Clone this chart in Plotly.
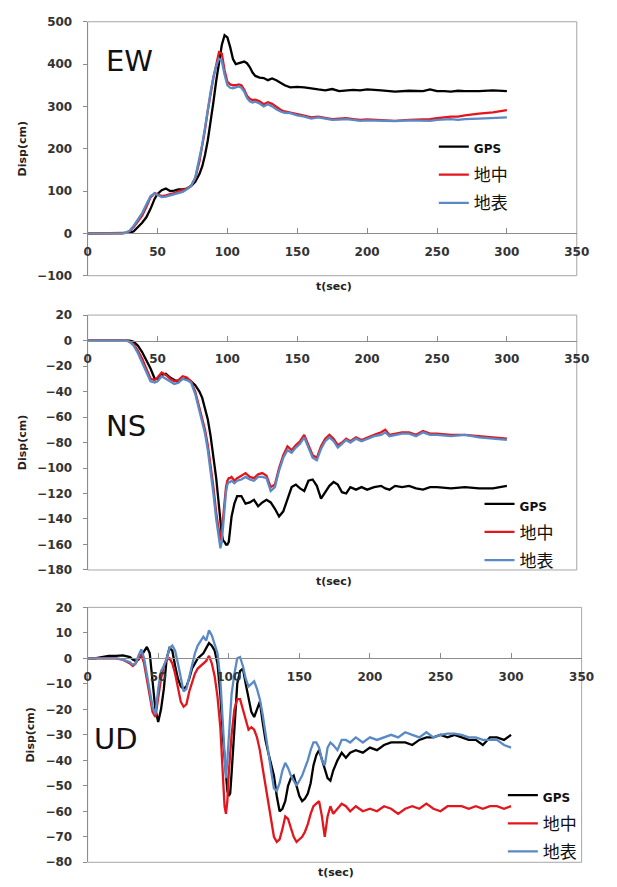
import plotly.graph_objects as go

# ---------------- DATA ----------------
t_ew = [0, 10, 20, 25, 28, 30, 33, 36, 39, 42, 45, 48, 50, 53, 56, 59, 62, 65, 68, 71, 74, 77, 80, 82, 84, 86, 88, 90,
        92, 94, 96, 98, 100, 102, 104, 106, 108, 110, 112, 114, 116, 118, 120, 123, 126, 129, 132, 135, 138, 141, 145,
        150, 155, 160, 165, 170, 175, 180, 185, 190, 195, 200, 210, 220, 230, 240, 245, 250, 255, 260, 265, 270, 280,
        290, 300]
ew_gps = [0, 0, 0, 0, 0, 1, 5, 14, 25, 38, 58, 82, 93, 102, 106, 100, 101, 104, 104, 106, 112, 122, 140, 158, 185, 220,
          262, 310, 360, 405, 445, 468, 463, 440, 412, 400, 402, 405, 406, 402, 393, 380, 372, 368, 367, 362, 366, 362,
          355, 350, 345, 346, 345, 342, 340, 338, 341, 336, 337, 339, 338, 340, 338, 335, 337, 336, 340, 336, 336, 335,
          337, 336, 336, 338, 336]
ew_under = [0, 0, 0, 0, 2, 5, 15, 28, 42, 62, 85, 95, 92, 88, 90, 93, 95, 100, 102, 105, 112, 130, 170, 205, 245, 290,
            330, 368, 398, 428, 425, 385, 358, 352, 350, 350, 352, 350, 340, 325, 318, 315, 316, 312, 305, 310, 306, 298,
            292, 288, 286, 282, 278, 274, 276, 273, 270, 271, 272, 270, 268, 269, 268, 266, 268, 269, 270, 272, 274, 276,
            276, 279, 283, 286, 291]
ew_surf = [0, 0, 0, 0, 3, 6, 18, 32, 48, 68, 88, 94, 90, 86, 87, 90, 92, 96, 98, 104, 112, 132, 175, 210, 250, 295, 335,
           370, 395, 413, 408, 375, 350, 344, 343, 345, 347, 344, 335, 320, 312, 309, 311, 307, 300, 305, 300, 293, 288,
           285, 284, 279, 276, 271, 274, 271, 268, 269, 270, 268, 266, 267, 266, 265, 267, 267, 266, 268, 269, 270, 268,
           270, 271, 273, 274]

t_ns = [0, 10, 20, 25, 28, 30, 33, 36, 39, 42, 45, 48, 50, 53, 56, 59, 62, 65, 68, 71, 74, 77, 80, 82, 84, 86, 88, 90,
        92, 94, 95, 96, 97, 98, 99, 100, 101, 102, 103, 105, 107, 110, 113, 116, 119, 122, 125, 128, 131, 134, 137, 140,
        143, 146, 149, 152, 155, 158, 161, 164, 167, 170, 173, 176, 179, 182, 185, 188, 192, 196, 200, 205, 210, 213,
        216, 220, 225, 230, 235, 240, 245, 250, 260, 270, 280, 290, 300]
ns_gps = [0, 0, 0, 0, 0, 0, -1, -4, -9, -15, -22, -30, -30, -27, -26, -29, -31, -32, -30, -30, -32, -35, -40, -45, -53,
          -62, -75, -90, -108, -130, -142, -152, -157, -158, -160, -160, -158, -150, -138, -128, -122, -122, -128, -127,
          -125, -130, -127, -125, -127, -132, -138, -134, -124, -115, -113, -116, -118, -110, -109, -114, -124, -119,
          -114, -111, -113, -119, -120, -115, -117, -115, -117, -115, -114, -116, -117, -114, -115, -114, -116, -117,
          -115, -115, -116, -115, -116, -116, -114]
ns_under = [0, 0, 0, 0, 0, -1, -3, -8, -14, -22, -30, -31, -29, -25, -27, -30, -32, -31, -28, -29, -32, -40, -52, -60,
            -70, -82, -98, -115, -135, -152, -157, -150, -138, -125, -115, -110, -108, -108, -107, -110, -108, -106,
            -104, -107, -108, -105, -104, -106, -115, -113, -100, -90, -83, -86, -82, -79, -74, -82, -90, -92, -83, -77,
            -74, -77, -82, -80, -77, -79, -76, -78, -76, -74, -72, -70, -74, -73, -72, -72, -74, -71, -73, -73, -74,
            -74, -75, -76, -77]
ns_surf = [0, 0, 0, 0, 0, -1, -4, -10, -17, -25, -32, -33, -32, -28, -30, -32, -34, -33, -30, -31, -33, -42, -55, -63,
           -73, -86, -102, -120, -140, -157, -163, -158, -143, -130, -119, -113, -111, -111, -110, -112, -110, -109,
           -107, -109, -110, -107, -107, -108, -118, -115, -102, -92, -86, -88, -84, -81, -76, -84, -92, -94, -85, -79,
           -76, -79, -84, -81, -78, -80, -77, -79, -77, -75, -74, -72, -75, -74, -73, -73, -75, -72, -74, -74, -75,
           -74, -76, -77, -78]

t_ud = [0, 5, 10, 15, 20, 25, 30, 32, 34, 36, 38, 40, 42, 44, 46, 48, 50, 52, 54, 56, 58, 60, 62, 64, 66, 68, 70, 72,
        74, 76, 78, 80, 82, 84, 86, 88, 90, 92, 94, 96, 97, 98, 99, 100, 101, 102, 104, 106, 108, 110, 112, 114, 116,
        118, 120, 122, 124, 126, 128, 130, 132, 134, 136, 138, 140, 142, 144, 146, 148, 150, 152, 154, 156, 158, 160,
        162, 164, 166, 168, 170, 172, 174, 177, 180, 183, 186, 190, 195, 200, 205, 210, 215, 220, 225, 230, 235, 240,
        245, 250, 255, 260, 265, 270, 275, 280, 285, 290, 295, 300]
ud_gps = [0, 0, 0.5, 1, 1, 1.2, 0.5, -0.5, -1, -0.5, 1, 3, 4.5, 2, -8, -20, -25, -20, -12, 0, 4, 3, -3, -8, -11, -12,
          -11, -8, -4, -2, 0, 1, 2, 4, 6, 5, 3, -2, -14, -32, -40, -46, -52, -54, -53, -45, -25, -10, -5, -4, -10, -16,
          -21, -23, -20, -17, -25, -32, -37, -41, -46, -54, -60, -59, -56, -50, -47, -46, -50, -54, -56, -55, -53, -49,
          -42, -38, -36, -40, -44, -47, -48, -44, -40, -37, -39, -37, -36, -37, -35, -36, -34, -33, -33, -33, -34, -32,
          -31, -31, -30, -31, -30, -31, -32, -32, -34, -31, -31, -32, -30]
ud_under = [0, 0, 0, 0, 0, -0.5, -2, -3, -2, 0, 1.5, -2, -8, -15, -21, -23, -15, -8, -3, -0.5, 0, -2, -6, -12, -17, -19,
            -18, -13, -9, -6, -4, -3, -2, -1, 1, -2, -7, -15, -27, -50, -58, -61, -56, -45, -36, -30, -20, -16, -16, -20,
            -25, -28, -27, -28, -31, -36, -43, -50, -57, -64, -70, -72, -71, -67, -62, -63, -67, -70, -72, -71, -70,
            -68, -65, -61, -58, -57, -56, -62, -70, -62, -58, -61, -59, -57, -58, -60, -58, -60, -59, -60, -58, -59,
            -61, -59, -58, -59, -57, -59, -60, -58, -58, -58, -59, -58, -59, -58, -58, -59, -58]
ud_surf = [0, 0, 0, 0, 0, -0.5, -1.5, -2.5, -2, 1, 3.5, 0, -6, -13, -19, -22, -12, -5, -3, 0, 4, 5, 3, -2, -8, -13,
           -12, -7, -2, 2, 5, 7, 8.5, 7, 11, 9, 5, 2, -8, -28, -40, -47, -40, -30, -20, -14, -6, 0, 0.5, -3, -8, -11,
           -10, -9, -12, -16, -22, -30, -37, -44, -51, -52, -49, -44, -41, -43, -46, -48, -50, -48, -46, -43, -40, -36,
           -33, -33, -35, -40, -42, -35, -33, -34, -36, -32, -32, -33, -31, -33, -31, -32, -31, -30, -31, -29, -30, -31,
           -29, -31, -30, -29.5, -29.5, -30, -31, -31, -32, -32, -32, -34, -35]

series_names = ["GPS", "地中", "地表"]
series_colors = ["#000000", "#e3161e", "#5a8ac6"]
panel_labels = ["EW", "NS", "UD"]
y_ranges = [[-100, 500], [-180, 20], [-80, 20]]
y_dticks = [100, 20, 10]
x_range = [0, 350]
x_dtick = 50

# ---------------- LAYOUT GEOMETRY (pixels in a 617x887 page) ----------------
W, H = 617, 887
plot_boxes = [  # left, right, top, bottom
    (86, 589, 15, 273),
    (86, 589, 313, 572),
    (86, 594, 610, 869),
]
legend_pos = [(442, 124), (489, 487), (513, 783)]
label_pos = [(103, 55), (103, 426), (90, 744)]
xtitle_y = [284, 584, 879]

panels = [
    (t_ew, [ew_gps, ew_under, ew_surf]),
    (t_ns, [ns_gps, ns_under, ns_surf]),
    (t_ud, [ud_gps, ud_under, ud_surf]),
]

fig = go.Figure()
layout = dict(
    width=W, height=H,
    margin=dict(l=0, r=0, t=0, b=0),
    paper_bgcolor="white", plot_bgcolor="white",
    showlegend=True,
)
shapes = []
annotations = []

tick_font = dict(family="DejaVu Sans", size=12, color="#333333", weight="bold")

for i, (t, ys) in enumerate(panels):
    n = i + 1
    xa = "xaxis" if n == 1 else f"xaxis{n}"
    ya = "yaxis" if n == 1 else f"yaxis{n}"
    xr = "x" if n == 1 else f"x{n}"
    yr = "y" if n == 1 else f"y{n}"
    lg = "legend" if n == 1 else f"legend{n}"
    l, r, tp, bt = plot_boxes[i]
    xd = [l / W, r / W]
    yd = [1 - bt / H, 1 - tp / H]
    y0, y1 = y_ranges[i]
    zero_pos = yd[0] + (0 - y0) / (y1 - y0) * (yd[1] - yd[0])

    for k in range(3):
        name = series_names[k]
        if k == 0:
            disp = '<b><span style="font-family:DejaVu Sans;font-size:12px">GPS</span></b>'
        else:
            disp = name
        fig.add_trace(go.Scatter(
            x=t, y=ys[k], mode="lines", name=disp,
            line=dict(color=series_colors[k], width=2.3),
            xaxis=xr, yaxis=yr, legend=lg, legendgroup=f"{lg}_{k}",
        ))

    layout[xa] = dict(
        domain=xd, range=x_range, dtick=x_dtick, anchor="free", position=zero_pos,
        showline=True, linecolor="#8c8c8c", linewidth=1,
        ticks="inside", ticklen=5, tickcolor="#8c8c8c",
        tickfont=tick_font, ticklabelstandoff=7,
        showgrid=False, zeroline=False,
    )
    layout[ya] = dict(
        domain=yd, range=y_ranges[i], dtick=y_dticks[i], anchor=xr,
        showline=True, linecolor="#8c8c8c", linewidth=1,
        ticks="outside", ticklen=4, tickcolor="#8c8c8c",
        tickfont=tick_font, ticklabelstandoff=8,
        showgrid=False, zeroline=False,
        title=dict(text="<b>Disp(cm)</b>", font=dict(family="DejaVu Sans", size=11, color="#222"), standoff=8),
    )
    shapes.append(dict(type="rect", xref=f"{xr} domain", yref=f"{yr} domain", x0=0, x1=1, y0=0, y1=1,
                       line=dict(color="#a6a6a6", width=1), layer="below"))
    lx, ly = legend_pos[i]
    layout[lg] = dict(
        x=lx / W, y=1 - ly / H, xanchor="left", yanchor="top",
        bgcolor="rgba(0,0,0,0)", borderwidth=0,
        font=dict(family="Noto Sans CJK JP", size=17, color="#111"),
        tracegroupgap=3, traceorder="grouped",
    )
    px_, py_ = label_pos[i]
    annotations.append(dict(
        text=panel_labels[i], xref="paper", yref="paper", x=px_ / W, y=1 - py_ / H,
        xanchor="left", yanchor="middle", showarrow=False,
        font=dict(family="DejaVu Sans", size=29, color="#111"),
    ))
    annotations.append(dict(
        text="<b>t(sec)</b>", xref="paper", yref="paper", x=(l + r) / 2 / W + 0.003, y=1 - xtitle_y[i] / H,
        xanchor="center", yanchor="middle", showarrow=False,
        font=dict(family="DejaVu Sans", size=11, color="#222"),
    ))

layout["shapes"] = shapes
layout["annotations"] = annotations
fig.update_layout(**layout)
fig.write_html(
    "out.html",
    config={"displayModeBar": False},
    post_script="document.body.style.margin='0';document.body.style.overflow='hidden';",
)
